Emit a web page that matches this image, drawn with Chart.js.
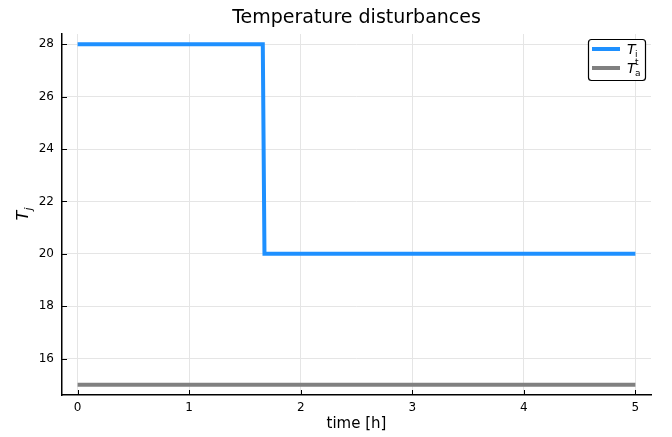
<!DOCTYPE html>
<html>
<head>
<meta charset="utf-8">
<script src="https://cdn.jsdelivr.net/npm/chart.js@4"></script>
<style>
  html, body { margin: 0; padding: 0; background: #fff; }
  #wrap { width: 672px; height: 437px; }
</style>
</head>
<body>
<div id="wrap"><canvas id="c" width="672" height="437"></canvas></div>
<script>
// series: time [h] / temperature
const tiTime = [0, 1.66, 1.675, 5];
const tiTemp = [28, 28, 20, 20];
const taTime = [0, 5];
const taTemp = [15, 15];

const xTicks = [0, 1, 2, 3, 4, 5];
const yTicks = [16, 18, 20, 22, 24, 26, 28];

const titleText = 'Temperature disturbances';
const xTitle = 'time [h]';
// [base, subscript, superscript]
const legendLabels = [['T', 'i', ''], ['T', 'a', 't']];
const yTitle = ['T', 'j'];

const blue = '#1e90ff';
const grey = '#808080';
const FONT = '"DejaVu Sans", sans-serif';

const toPts = (xs, ys) => xs.map((x, i) => ({ x: x, y: ys[i] }));

// draws titles, inward tick marks and the boxed legend
const decor = {
    id: 'decor',
    afterDraw(chart) {
        const ctx = chart.ctx;
        const a = chart.chartArea;
        const xs = chart.scales.x, ys = chart.scales.y;
        const cx = (a.left + a.right) / 2;
        ctx.save();
        ctx.fillStyle = '#000';
        ctx.textAlign = 'center';
        ctx.textBaseline = 'middle';
        ctx.font = '19px ' + FONT;
        ctx.fillText(titleText, cx, 18);
        ctx.font = '15px ' + FONT;
        ctx.fillText(xTitle, cx, 424);

        // y title, rotated
        ctx.save();
        ctx.translate(24, (a.top + a.bottom) / 2);
        ctx.rotate(-Math.PI / 2);
        ctx.font = 'italic 16px ' + FONT;
        ctx.textAlign = 'left';
        ctx.fillText(yTitle[0], -6, 0);
        ctx.font = 'italic 11px ' + FONT;
        ctx.fillText(yTitle[1], 4, 5);
        ctx.restore();

        // inward tick marks
        ctx.strokeStyle = '#000';
        ctx.lineWidth = 1;
        ctx.beginPath();
        xTicks.forEach(v => {
            const px = Math.round(xs.getPixelForValue(v)) + 0.5;
            ctx.moveTo(px, a.bottom);
            ctx.lineTo(px, a.bottom - 5);
        });
        yTicks.forEach(v => {
            const py = Math.round(ys.getPixelForValue(v)) + 0.5;
            ctx.moveTo(a.left, py);
            ctx.lineTo(a.left + 5, py);
        });
        ctx.stroke();

        // legend box
        const bx = 588, by = 39, bw = 57, bh = 41;
        ctx.fillStyle = '#fff';
        ctx.strokeStyle = '#000';
        ctx.lineWidth = 1.2;
        ctx.beginPath();
        ctx.roundRect(bx + 0.5, by + 0.5, bw, bh, 3);
        ctx.fill();
        ctx.stroke();
        const cols = [blue, grey];
        legendLabels.forEach((lab, i) => {
            const yy = by + 10 + i * 19;
            ctx.strokeStyle = cols[i];
            ctx.lineWidth = 4;
            ctx.beginPath();
            ctx.moveTo(bx + 4, yy);
            ctx.lineTo(bx + 32, yy);
            ctx.stroke();
            ctx.fillStyle = '#000';
            ctx.textAlign = 'left';
            ctx.textBaseline = 'alphabetic';
            ctx.font = 'italic 14px ' + FONT;
            ctx.fillText(lab[0], bx + 39, yy + 5);
            ctx.font = '9px ' + FONT;
            ctx.fillText(lab[1], bx + 47, yy + 8);
            if (lab[2]) ctx.fillText(lab[2], bx + 47, yy - 3);
        });
        ctx.restore();
    }
};

new Chart(document.getElementById('c'), {
    type: 'line',
    data: {
        datasets: [
            { label: 'Ti', data: toPts(tiTime, tiTemp), borderColor: blue, borderWidth: 4, pointRadius: 0, fill: false, tension: 0 },
            { label: 'Ta', data: toPts(taTime, taTemp), borderColor: grey, borderWidth: 4, pointRadius: 0, fill: false, tension: 0 }
        ]
    },
    options: {
        responsive: false,
        animation: false,
        events: [],
        layout: { padding: { top: 34, right: 21, left: 0, bottom: 0 } },
        plugins: { legend: { display: false }, title: { display: false }, tooltip: { enabled: false } },
        scales: {
            x: {
                type: 'linear',
                min: -0.14, max: 5.14,
                afterBuildTicks: s => { s.ticks = xTicks.map(v => ({ value: v })); },
                afterFit: s => { s.height = 42; },
                grid: { color: '#e5e5e5', drawTicks: false },
                border: { color: '#000', width: 1.5 },
                ticks: { color: '#000', font: { size: 12, family: FONT }, padding: 6, maxRotation: 0 }
            },
            y: {
                type: 'linear',
                min: 14.61, max: 28.39,
                afterBuildTicks: s => { s.ticks = yTicks.map(v => ({ value: v })); },
                afterFit: s => { s.width = 62; },
                grid: { color: '#e5e5e5', drawTicks: false },
                border: { color: '#000', width: 1.5 },
                ticks: { color: '#000', font: { size: 12, family: FONT }, padding: 8 }
            }
        }
    },
    plugins: [decor]
});
</script>
</body>
</html>
